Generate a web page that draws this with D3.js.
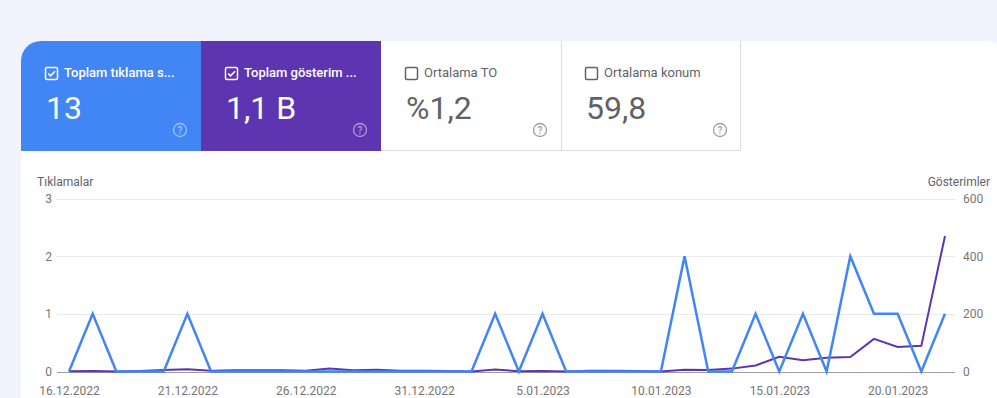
<!DOCTYPE html>
<html>
<head>
<meta charset="utf-8">
<script src="https://cdn.jsdelivr.net/npm/d3@7"></script>
<style>
  html, body { margin: 0; padding: 0; background: #f1f4fc; }
  svg { display: block; font-family: Roboto, "Noto Sans", sans-serif; }
</style>
</head>
<body>
<div id="chart"></div>
<script>
// summary cards
const cardLabels = ["Toplam tıklama s...", "Toplam gösterim ...", "Ortalama TO", "Ortalama konum"];
const cardValues = ["13", "1,1 B", "%1,2", "59,8"];
const cardChecked = [true, true, false, false];

// daily series, 16.12.2022 .. 22.01.2023
const startDate = new Date(2022, 11, 16);
const endDate = new Date(2023, 0, 22);
const clicks = [0, 1, 0, 0, 0, 1, 0, 0, 0, 0, 0, 0, 0, 0, 0, 0, 0, 0, 1, 0,
                1, 0, 0, 0, 0, 0, 2, 0, 0, 1, 0, 1, 0, 2, 1, 1, 0, 1];
const impressions = [1, 2, 0, 2, 5, 8, 3, 4, 4, 4, 3, 10, 4, 6, 3, 3, 2, 0, 7, 1,
                     2, 0, 3, 3, 2, 0, 6, 5, 10, 21, 51, 39, 48, 50, 113, 85, 89, 470];

const clickTicks = [0, 1, 2, 3];
const impressionTicks = [0, 200, 400, 600];

const width = 997;
const height = 398;
const blue = "#4285f4";
const purple = "#5e35b1";

const svg = d3.select("#chart").append("svg")
    .attr("width", width)
    .attr("height", height)
    .attr("viewBox", [0, 0, width, height]);

//Main white panel
svg.append("rect")
    .attr("x", 21).attr("y", 41)
    .attr("width", 985).attr("height", 400)
    .attr("rx", 20)
    .attr("fill", "#fff");

//Cards
const cardW = 180, cardX0 = 21, cardY = 41, cardH = 110;
const cardFill = [blue, purple, "#fff", "#fff"];

svg.append("clipPath").attr("id", "panelClip")
  .append("rect")
    .attr("x", 21).attr("y", 41)
    .attr("width", 985).attr("height", 400)
    .attr("rx", 20);

const cards = svg.append("g")
    .attr("clip-path", "url(#panelClip)")
    .selectAll("g")
    .data(cardLabels)
    .join("g")
    .attr("transform", (d, i) => `translate(${cardX0 + i * cardW},${cardY})`);

cards.append("rect")
    .attr("width", cardW).attr("height", cardH)
    .attr("fill", (d, i) => cardFill[i]);

// borders of the white cards
svg.append("path")
    .attr("d", "M381,150.5H741M561.5,41V151M740.5,41V151")
    .attr("stroke", "#dadce0")
    .attr("fill", "none");

cards.append("rect")
    .attr("x", 24.5).attr("y", 26.5)
    .attr("width", 12).attr("height", 12)
    .attr("rx", 1.5)
    .attr("fill", "none")
    .attr("stroke", (d, i) => cardChecked[i] ? "#fff" : "#5f6368")
    .attr("stroke-width", 1.5);

cards.filter((d, i) => cardChecked[i])
  .append("path")
    .attr("d", "M27.3,32.6L29.6,34.9L34,30.3")
    .attr("fill", "none")
    .attr("stroke", "#fff")
    .attr("stroke-width", 1.6);

cards.append("text")
    .attr("x", 43).attr("y", 36)
    .attr("font-size", 13)
    .attr("font-weight", (d, i) => cardChecked[i] ? 500 : 400)
    .attr("fill", (d, i) => cardChecked[i] ? "#fff" : "#5f6368")
    .text(d => d);

cards.append("text")
    .attr("x", 25).attr("y", 77.5)
    .attr("font-size", 32)
    .attr("fill", (d, i) => cardChecked[i] ? "#fff" : "#5f6368")
    .text((d, i) => cardValues[i]);

const help = cards.append("g")
    .attr("transform", "translate(159,89)")
    .attr("opacity", (d, i) => cardChecked[i] ? 0.5 : 1);
help.append("circle")
    .attr("r", 6.5)
    .attr("fill", "none")
    .attr("stroke", (d, i) => cardChecked[i] ? "#fff" : "#9aa0a6")
    .attr("stroke-width", 1.3);
help.append("text")
    .attr("text-anchor", "middle")
    .attr("y", 3.5)
    .attr("font-size", 10)
    .attr("font-weight", 500)
    .attr("fill", (d, i) => cardChecked[i] ? "#fff" : "#9aa0a6")
    .text("?");

//Scales
const dates = d3.timeDay.range(startDate, d3.timeDay.offset(endDate, 1));
const x = d3.scaleTime().domain([startDate, endDate]).range([69, 945]);
const yL = d3.scaleLinear().domain([0, 3]).range([371.5, 198.5]);
const yR = d3.scaleLinear().domain([0, 600]).range([371.5, 198.5]);

//Gridlines
svg.append("g")
    .selectAll("line")
    .data(clickTicks)
    .join("line")
    .attr("x1", 57).attr("x2", 955)
    .attr("y1", d => Math.round(yL(d)) + 0.5)
    .attr("y2", d => Math.round(yL(d)) + 0.5)
    .attr("stroke", d => d === 0 ? "#9e9e9e" : "#e8eaed");

//Left axis
const leftAxis = svg.append("g")
    .attr("transform", "translate(52,0)")
    .call(d3.axisLeft(yL).tickValues(clickTicks).tickFormat(d3.format("d")).tickSize(0).tickPadding(0));
leftAxis.select(".domain").remove();
leftAxis.selectAll("text")
    .attr("font-family", "Roboto, sans-serif")
    .attr("font-size", 12)
    .attr("fill", "#757575");

//Right axis
const rightAxis = svg.append("g")
    .attr("transform", "translate(963,0)")
    .call(d3.axisRight(yR).tickValues(impressionTicks).tickFormat(d3.format("d")).tickSize(0).tickPadding(0));
rightAxis.select(".domain").remove();
rightAxis.selectAll("text")
    .attr("font-family", "Roboto, sans-serif")
    .attr("font-size", 12)
    .attr("fill", "#757575");

//Bottom axis
const dateTicks = dates.filter((d, i) => i % 5 === 0);
const bottomAxis = svg.append("g")
    .attr("transform", "translate(0,386)")
    .call(d3.axisBottom(x).tickValues(dateTicks).tickFormat(d3.timeFormat("%-d.%m.%Y")).tickSize(0).tickPadding(0));
bottomAxis.select(".domain").remove();
bottomAxis.selectAll("text")
    .attr("font-family", "Roboto, sans-serif")
    .attr("font-size", 12)
    .attr("fill", "#757575");

//Axis titles
svg.append("text")
    .attr("x", 37).attr("y", 186)
    .attr("font-size", 12)
    .attr("fill", "#5f6368")
    .text("Tıklamalar");
svg.append("text")
    .attr("x", 990).attr("y", 186)
    .attr("text-anchor", "end")
    .attr("font-size", 12)
    .attr("fill", "#5f6368")
    .text("Gösterimler");

//Lines
const impLine = d3.line()
    .x((d, i) => x(dates[i]))
    .y(d => yR(d));
const clickLine = d3.line()
    .x((d, i) => x(dates[i]))
    .y(d => yL(d));

svg.append("path")
    .datum(impressions)
    .attr("d", impLine)
    .attr("fill", "none")
    .attr("stroke", purple)
    .attr("stroke-width", 2);

svg.append("path")
    .datum(clicks)
    .attr("d", clickLine)
    .attr("fill", "none")
    .attr("stroke", blue)
    .attr("stroke-width", 2.5);
</script>
</body>
</html>
